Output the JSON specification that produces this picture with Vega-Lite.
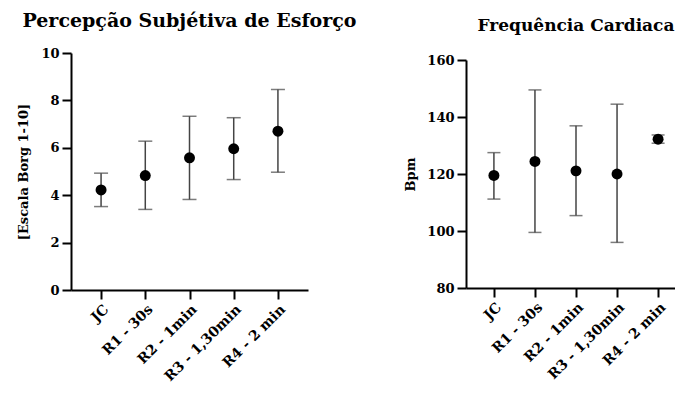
{
  "$schema": "https://vega.github.io/schema/vega-lite/v6.json",
  "background": "white",
  "padding": {"left": 17, "top": 12, "right": 0, "bottom": 0},
  "spacing": 47,
  "config": {
    "font": "DejaVu Serif",
    "view": {"stroke": null},
    "axis": {
      "grid": false,
      "domainColor": "#000", "domainWidth": 2,
      "tickColor": "#000", "tickWidth": 2, "tickSize": 9,
      "labelFont": "DejaVu Serif", "labelFontWeight": "bold", "labelFontSize": 13, "labelColor": "#000", "labelPadding": 3,
      "titleFont": "DejaVu Serif", "titleFontWeight": "bold", "titleFontSize": 13, "titleColor": "#000"
    },
    "axisX": {"labelFontSize": 14},
    "title": {"font": "DejaVu Serif", "fontSize": 19, "fontWeight": "bold", "color": "#000", "anchor": "middle", "offset": 16}
  },
  "hconcat": [
    {
      "width": 237, "height": 237,
      "title": "Percepção Subjétiva de Esforço",
      "data": {"values": [
        {"grupo": "JC", "media": 4.22, "inferior": 3.52, "superior": 4.93},
        {"grupo": "R1 - 30s", "media": 4.83, "inferior": 3.40, "superior": 6.28},
        {"grupo": "R2 - 1min", "media": 5.58, "inferior": 3.82, "superior": 7.33},
        {"grupo": "R3 - 1,30min", "media": 5.96, "inferior": 4.66, "superior": 7.27},
        {"grupo": "R4 - 2 min", "media": 6.70, "inferior": 4.97, "superior": 8.46}
      ]},
      "encoding": {
        "x": {"field": "grupo", "type": "nominal", "sort": null, "scale": {"type": "point", "padding": 0.68}, "axis": {"title": null, "labelAngle": -45}}
      },
      "layer": [
        {
          "mark": {"type": "errorbar", "color": "#444", "thickness": 1.5, "ticks": {"size": 14, "thickness": 1.5, "color": "#444"}},
          "encoding": {
            "y": {"field": "inferior", "type": "quantitative", "scale": {"domain": [0, 10]}, "axis": {"title": "[Escala Borg 1-10]", "values": [0, 2, 4, 6, 8, 10], "titlePadding": 10}},
            "y2": {"field": "superior"}
          }
        },
        {
          "mark": {"type": "point", "filled": true, "size": 120, "color": "#000", "opacity": 1},
          "encoding": {"y": {"field": "media", "type": "quantitative", "axis": {"title": "[Escala Borg 1-10]", "values": [0, 2, 4, 6, 8, 10], "titlePadding": 10}}}
        }
      ]
    },
    {
      "width": 220, "height": 235,
      "title": {"text": "Frequência Cardiaca", "fontSize": 17, "offset": 18},
      "data": {"values": [
        {"grupo": "JC", "media": 119.5, "inferior": 111.2, "superior": 127.5},
        {"grupo": "R1 - 30s", "media": 124.4, "inferior": 99.5, "superior": 149.5},
        {"grupo": "R2 - 1min", "media": 121.1, "inferior": 105.4, "superior": 136.9},
        {"grupo": "R3 - 1,30min", "media": 120.0, "inferior": 96.0, "superior": 144.5},
        {"grupo": "R4 - 2 min", "media": 132.2, "inferior": 130.8, "superior": 133.7}
      ]},
      "encoding": {
        "x": {"field": "grupo", "type": "nominal", "sort": null, "scale": {"type": "point", "padding": 0.68}, "axis": {"title": null, "labelAngle": -45}}
      },
      "layer": [
        {
          "mark": {"type": "errorbar", "color": "#444", "thickness": 1.5, "ticks": {"size": 13, "thickness": 1.5, "color": "#444"}},
          "encoding": {
            "y": {"field": "inferior", "type": "quantitative", "scale": {"domain": [80, 160], "range": [235, 7]}, "axis": {"title": "Bpm", "values": [80, 100, 120, 140, 160], "titlePadding": 9}},
            "y2": {"field": "superior"}
          }
        },
        {
          "mark": {"type": "point", "filled": true, "size": 120, "color": "#000", "opacity": 1},
          "encoding": {"y": {"field": "media", "type": "quantitative", "axis": {"title": "Bpm", "values": [80, 100, 120, 140, 160], "titlePadding": 9}}}
        }
      ]
    }
  ]
}
